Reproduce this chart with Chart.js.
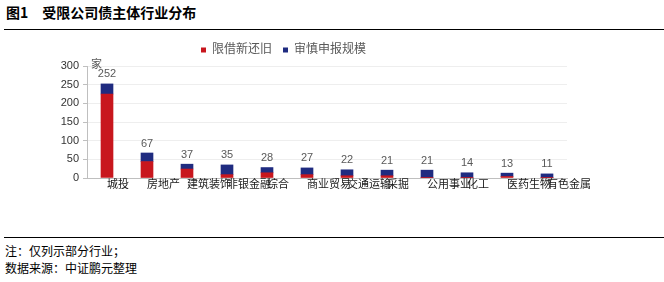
<!DOCTYPE html>
<html>
<head>
<meta charset="utf-8">
<script src="https://cdn.jsdelivr.net/npm/chart.js@4/dist/chart.umd.min.js"></script>
<style>
  body { margin: 0; width: 664px; height: 282px; background: #fff; position: relative; overflow: hidden;
         font-family: "Noto Sans CJK SC", sans-serif; color: #000; }
  #title { position: absolute; left: 6px; top: 3px; font-size: 14px; font-weight: bold; line-height: 18px; white-space: pre; }
  .rule { position: absolute; left: 4px; width: 660px; height: 1px; background: #000; }
  .note { position: absolute; left: 5px; font-size: 12px; line-height: 14px; white-space: pre; }
  #wrap { position: absolute; left: 0; top: 32px; width: 664px; height: 202px; }
</style>
</head>
<body>
<div id="title">图1　受限公司债主体行业分布</div>
<div class="rule" style="top:29px"></div>
<div id="wrap"><canvas id="chart"></canvas></div>
<div class="rule" style="top:237px"></div>
<div class="note" style="top:244px">注：仅列示部分行业；</div>
<div class="note" style="top:261px">数据来源：中证鹏元整理</div>
<script>
const industries = ["城投", "房地产", "建筑装饰", "非银金融", "综合", "商业贸易", "交通运输", "采掘", "公用事业", "化工", "医药生物", "有色金属"];
const borrowNewRepayOld = [225, 44, 24, 9, 14, 9, 6, 6, 1, 1, 4, 1];
const prudentScale = [27, 23, 13, 26, 14, 18, 16, 15, 20, 13, 9, 10];
const yTicks = [0, 50, 100, 150, 200, 250, 300];

const redColor = "#C8161D";
const blueColor = "#1F2B80";
const textFont = "'Liberation Sans', Arial, 'Noto Sans CJK SC', sans-serif";

// 柱顶合计 + 左上角单位“家”
const totalsPlugin = {
  id: "totals",
  afterDatasetsDraw(chart) {
    const { ctx, scales } = chart;
    ctx.save();
    ctx.fillStyle = "#595959";
    ctx.font = "11px " + textFont;
    ctx.textAlign = "center";
    ctx.textBaseline = "bottom";
    industries.forEach((name, i) => {
      const total = borrowNewRepayOld[i] + prudentScale[i];
      const x = scales.x.getPixelForValue(i);
      const y = scales.y.getPixelForValue(total);
      ctx.fillText(String(total), x, y - 4);
    });
    ctx.textAlign = "left";
    ctx.textBaseline = "middle";
    ctx.fillText("家", chart.chartArea.left + 4, scales.y.getPixelForValue(300) - 1);
    ctx.restore();
  }
};

new Chart(document.getElementById("chart"), {
  type: "bar",
  data: {
    labels: industries,
    datasets: [
      { label: "限借新还旧", data: borrowNewRepayOld, backgroundColor: redColor, barThickness: 12 },
      { label: "审慎申报规模", data: prudentScale, backgroundColor: blueColor, barThickness: 12 }
    ]
  },
  options: {
    responsive: true,
    maintainAspectRatio: false,
    animation: false,
    layout: { padding: { top: 1, right: 97, bottom: 36, left: 0 } },
    plugins: {
      legend: {
        position: "top",
        labels: {
          boxWidth: 5,
          boxHeight: 5,
          padding: 11,
          color: "#595959",
          font: { size: 12, family: textFont }
        }
      },
      tooltip: { enabled: false }
    },
    scales: {
      x: {
        stacked: true,
        grid: { display: false, drawTicks: false },
        border: { display: true, color: "#bfbfbf" },
        ticks: {
          align: "start",
          autoSkip: false,
          maxRotation: 0,
          minRotation: 0,
          padding: 0,
          color: "#1a1a1a",
          font: { size: 11, family: textFont }
        },
        afterFit(scale) { scale.height = 20; }
      },
      y: {
        stacked: true,
        min: 0,
        max: 300,
        afterBuildTicks(scale) { scale.ticks = yTicks.map(v => ({ value: v })); },
        grid: { color: "#eeeeee", tickColor: "#bfbfbf", tickLength: 4 },
        border: { display: true, color: "#bfbfbf" },
        ticks: {
          padding: 4,
          color: "#333333",
          font: { size: 11, family: textFont }
        },
        afterFit(scale) { scale.width = 87; }
      }
    }
  },
  plugins: [totalsPlugin]
});
</script>
</body>
</html>
